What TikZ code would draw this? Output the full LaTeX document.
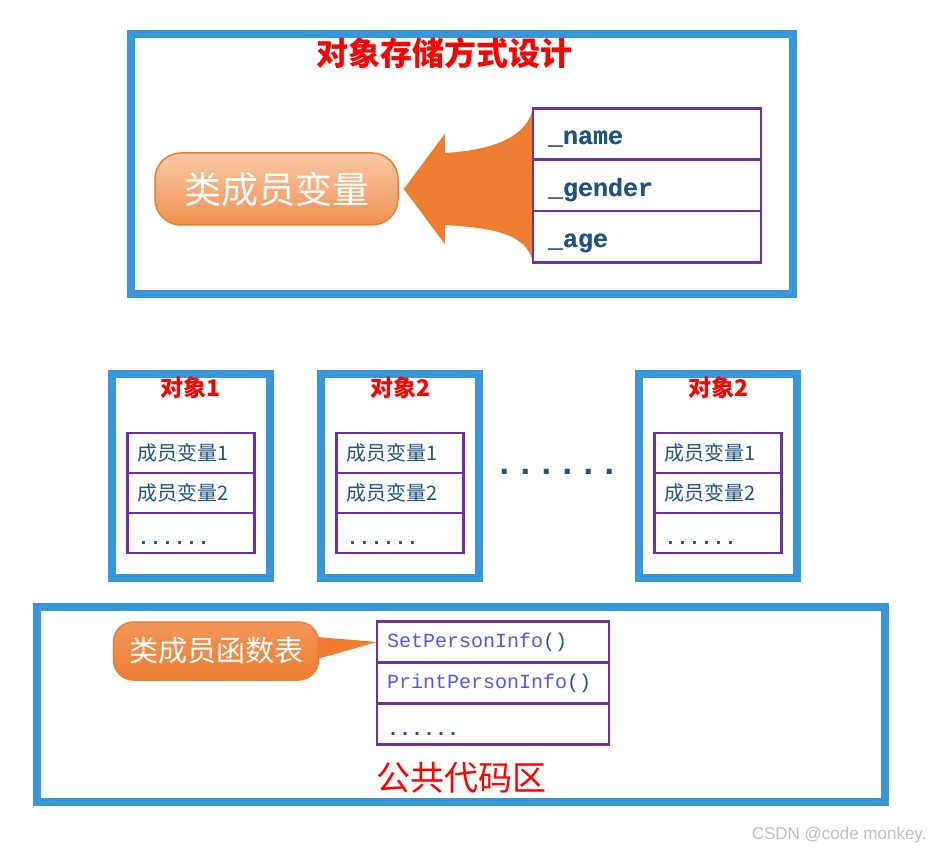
\documentclass[tikz,border=0pt]{standalone}
\usepackage{fontspec}
\setmainfont{Liberation Serif}
\setmonofont{Liberation Mono}
\setsansfont{Liberation Sans}
\newfontfamily\cjk{Noto Sans CJK SC}
\usepackage{xcolor}
\usetikzlibrary{positioning,calc}

\definecolor{frameblue}{RGB}{56,150,218}
\definecolor{cellpurple}{RGB}{112,48,160}
\definecolor{codeteal}{RGB}{31,84,128}
\definecolor{funcblue}{RGB}{85,85,235}
\definecolor{pillorange}{RGB}{237,125,49}
\definecolor{pilllight}{RGB}{248,200,165}

\tikzset{
	frame/.style={draw=frameblue,line width=8pt,inner sep=0pt,outer sep=0pt},
	objframe/.style={frame,minimum width=158pt,minimum height=204pt},
	cell/.style={draw=cellpurple,line width=2.6pt,outer sep=0pt,align=left},
	bigcell/.style={cell,minimum height=51.3pt,text width=198pt,inner xsep=15pt,
		text=codeteal,font=\ttfamily\bfseries\fontsize{25}{30}\selectfont},
	objcell/.style={cell,minimum height=40pt,text width=107pt,inner xsep=10pt,
		text=codeteal,font=\cjk\fontsize{20}{24}\selectfont},
	fncell/.style={cell,minimum height=41pt,text width=212pt,inner xsep=10pt,
		text=funcblue,font=\ttfamily\fontsize{20}{24}\selectfont},
	redtitle/.style={text=red,inner sep=0pt},
	pillbox/.style={draw=pillorange,line width=1.5pt,text=white,inner sep=0pt},
}
\newcommand{\celldots}{\raisebox{-11pt}[0pt][0pt]{\ttfamily\bfseries ......}}
\newcommand{\lowtext}[1]{\raisebox{-11pt}[0pt][0pt]{#1}}

\begin{document}
\begin{tikzpicture}[x=1pt,y=-1pt]
		
		\useasboundingbox (0,0) rectangle (933,850);
		\fill[white] (0,0) rectangle (933,850);
		
		% Storage design
		\node[frame,minimum width=662pt,minimum height=260pt] (design) at (462,164) {};
		\node[redtitle,font=\cjk\bfseries\fontsize{32}{32}\selectfont] (designtitle) at (444,53) {对象存储方式设计};
		
		\node[pillbox,rounded corners=26pt,minimum width=243pt,minimum height=72pt,
			top color=pilllight,bottom color=pillorange!85!white,
			font=\cjk\fontsize{37}{37}\selectfont] (varpill) at (276.5,189) {类成员变量};
		
		\node[bigcell] (name) at (647,134) {\lowtext{\_name}};
		\node[bigcell,below=0pt of name] (gender) {\lowtext{\_gender}};
		\node[bigcell,below=0pt of gender] (age) {\lowtext{\_age}};
		
		% Big arrow
		\fill[pillorange] ($(varpill.east)+(5,0)$) -- ($(varpill.east)+(46,-55)$) -- ($(varpill.east)+(46,-36)$)
			.. controls ($(varpill.east)+(96,-39)$) and ($(name.north west)+(-6,28)$) .. (name.north west)
			-- (age.south west)
			.. controls ($(age.south west)+(-6,-28)$) and ($(varpill.east)+(96,39)$) .. ($(varpill.east)+(46,36)$)
			-- ($(varpill.east)+(46,55)$) -- cycle;
		\node[bigcell] at (name) {\lowtext{\_name}};
		\node[bigcell] at (gender) {\lowtext{\_gender}};
		\node[bigcell] at (age) {\lowtext{\_age}};
		
		% Objects
		\foreach \i/\x/\lab in {1/191/对象1,2/400/对象2,3/718/对象2}{
			\node[objframe] (obj\i) at (\x,476) {};
			\node[redtitle,font=\cjk\bfseries\fontsize{23}{23}\selectfont] (objtitle\i) at (\x,388) {\lab};
			\node[objcell] (mema\i) at (\x,453) {成员变量1};
			\node[objcell,below=0pt of mema\i] (memb\i) {成员变量2};
			\node[objcell,below=0pt of memb\i] (memc\i) {\celldots};
		}
		\node[anchor=base,text=codeteal,font=\ttfamily\bfseries\fontsize{35}{35}\selectfont] (gap) at (557,474) {......};
		
		% Common code area
		\node[frame,minimum width=848pt,minimum height=195pt] (code) at (461,704.5) {};
		\node[fncell] (setinfo) at (493,642) {SetPersonInfo\textcolor{codeteal}{()}};
		\node[fncell,below=0pt of setinfo] (printinfo) {PrintPersonInfo\textcolor{codeteal}{()}};
		\node[fncell,below=0pt of printinfo] (fnmore) {\textcolor{codeteal}{\celldots}};
		
		\node[pillbox,rounded corners=20pt,minimum width=205pt,minimum height=58pt,
			top color=pillorange!80!white,bottom color=pillorange,
			font=\cjk\fontsize{29}{29}\selectfont] (fnpill) at (216,651) {类成员函数表};
		\fill[pillorange] ($(fnpill.east)+(-2,-14)$) -- (setinfo.west) -- ($(fnpill.east)+(-2,8)$) -- cycle;
		
		\node[redtitle,font=\cjk\fontsize{34}{34}\selectfont] (codetitle) at (461,778) {公共代码区};
		
		\node[anchor=east,text=black!25,font=\sffamily\fontsize{17}{17}\selectfont] (mark) at (930,835) {CSDN @code monkey.};
		
	\end{tikzpicture}
\end{document}
